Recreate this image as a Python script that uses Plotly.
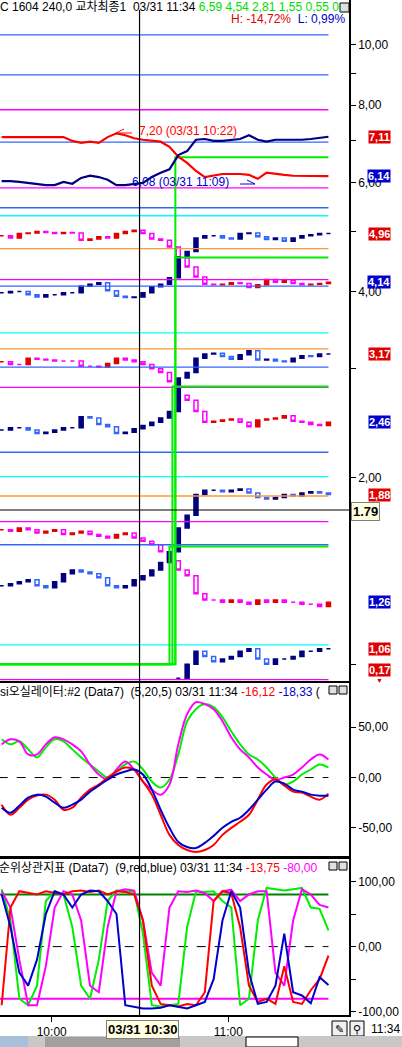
import numpy as np
import pandas as pd
import plotly.graph_objects as go
from plotly.subplots import make_subplots

DAY = '2016-03-31 '
bar_times = pd.date_range(DAY + '09:43', DAY + '11:34', freq='3min')  # 38 bars

# 교차 line series (top of the price panel)
cross_red = [7.10, 7.10, 7.10, 7.10, 7.10, 7.10, 7.10, 7.10, 7.00, 6.95, 6.98, 6.95, 7.10, 7.20,
             7.15, 7.07, 7.03, 7.00, 6.98, 6.85, 6.60, 6.45, 6.26, 6.12, 6.15, 6.19, 6.19, 6.19,
             6.17, 6.08, 6.22, 6.19, 6.17, 6.15, 6.15, 6.15, 6.14, 6.14]
cross_navy = [6.03, 6.03, 6.01, 5.99, 5.97, 5.94, 5.94, 6.01, 5.97, 6.10, 6.15, 6.12, 6.06, 5.94,
              5.94, 5.97, 5.99, 6.12, 6.22, 6.30, 6.64, 6.74, 7.03, 7.05, 7.00, 7.00, 7.03, 7.05,
              7.15, 7.03, 6.98, 7.03, 7.03, 7.03, 7.03, 7.05, 7.07, 7.11]

# candle closes (3 minute bars)
red_a = [4.92, 4.88, 4.96, 4.97, 5.00, 4.98, 4.96, 4.98, 4.97, 4.84, 4.86, 4.90, 4.88, 4.96,
         5.00, 5.02, 4.96, 4.86, 4.84, 4.72, 4.53, 4.38, 4.22, 4.11, 4.10, 4.11, 4.13, 4.12,
         4.06, 4.10, 4.18, 4.14, 4.17, 4.12, 4.10, 4.11, 4.12, 4.14]
blue_a = [3.98, 4.00, 4.00, 3.95, 3.92, 3.95, 3.95, 3.98, 3.98, 4.08, 4.11, 4.13, 4.01, 3.93,
          3.91, 3.92, 3.98, 4.07, 4.11, 4.21, 4.55, 4.64, 4.88, 4.92, 4.92, 4.88, 4.86, 4.96,
          4.97, 4.90, 4.85, 4.88, 4.82, 4.88, 4.92, 4.94, 4.96, 4.96]
red_b = [3.08, 3.05, 3.05, 3.12, 3.11, 3.10, 3.09, 3.09, 3.09, 3.03, 3.03, 3.02, 3.06, 3.12,
         3.10, 3.08, 3.05, 3.00, 2.96, 2.86, 2.72, 2.67, 2.56, 2.46, 2.47, 2.48, 2.49, 2.46,
         2.42, 2.48, 2.49, 2.50, 2.52, 2.47, 2.46, 2.44, 2.43, 2.46]
blue_b = [2.39, 2.41, 2.41, 2.39, 2.36, 2.37, 2.39, 2.41, 2.41, 2.51, 2.50, 2.44, 2.42, 2.36,
          2.37, 2.40, 2.43, 2.46, 2.50, 2.56, 2.90, 2.96, 3.12, 3.17, 3.18, 3.14, 3.11, 3.16,
          3.21, 3.10, 3.11, 3.09, 3.08, 3.12, 3.15, 3.14, 3.17, 3.17]
red_c = [1.65, 1.64, 1.66, 1.65, 1.63, 1.64, 1.65, 1.62, 1.63, 1.64, 1.62, 1.61, 1.60, 1.62,
         1.63, 1.60, 1.58, 1.56, 1.52, 1.47, 1.42, 1.39, 1.30, 1.27, 1.27, 1.26, 1.27, 1.26,
         1.25, 1.27, 1.26, 1.27, 1.26, 1.26, 1.25, 1.25, 1.24, 1.26]
blue_c = [1.34, 1.35, 1.36, 1.37, 1.34, 1.33, 1.36, 1.40, 1.42, 1.41, 1.40, 1.38, 1.34, 1.33,
          1.34, 1.37, 1.39, 1.42, 1.46, 1.52, 1.66, 1.74, 1.88, 1.91, 1.91, 1.90, 1.91, 1.92,
          1.89, 1.86, 1.85, 1.86, 1.88, 1.87, 1.89, 1.90, 1.89, 1.88]
blue_d = [0.95, 1.00, 1.05, 1.03, 1.01, 1.02, 1.03, 1.05, 1.06, 1.02, 1.00, 1.02, 1.02, 1.03,
          1.05, 1.05, 1.06, 1.06]  # from 10:43 on

# flat green series that jump at 10:42
green_before = 1.00
green_after = [6.59, 4.54, 2.81, 1.55]
green_jump = ['10:42', '10:42', '10:41', '10:40']

# horizontal reference levels of the price panel
level_vals = [10.38, 8.95, 7.86, 6.97, 5.88, 5.46, 5.30, 4.69, 4.18, 4.08, 3.43, 3.23, 3.02,
              2.80, 2.20, 2.01, 1.87, 1.70, 1.56, 1.075, 0.945]
level_cols = ['#3366ff', '#3366ff', '#ff00ff', '#3366ff', '#ff00ff', '#3366ff', '#00ffff',
              '#ff9933', '#ff00ff', '#3366ff', '#00ffff', '#ff9933', '#3366ff', '#ff00ff',
              '#3366ff', '#00ffff', '#ff9933', '#ff00ff', '#3366ff', '#00ffff', '#ff00ff']

# last value tags on the right axis
tag_vals = [7.11, 6.14, 4.96, 4.14, 3.17, 2.46, 1.88, 1.26, 1.06]
tag_text = ['7,11', '6,14', '4,96', '4,14', '3,17', '2,46', '1,88', '1,26', '1,06']
tag_cols = ['#e00000', '#0000cc', '#e00000', '#0000cc', '#e00000', '#0000cc', '#e00000',
            '#0000cc', '#e00000']

# 오실레이터 panel
osc_magenta = [33, 38, 36, 23, 23, 33, 40, 38, 33, 26, 13, 3, -2, 8, 16, 8, -4, -12, -17, -7,
               33, 63, 75, 73, 68, 56, 40, 28, 20, 10, 3, -2, 0, 3, 10, 18, 23, 18]
osc_green = [38, 33, 36, 28, 20, 30, 38, 36, 28, 20, 13, 6, 0, 6, 13, 16, 8, -4, -10, -2,
             23, 56, 68, 73, 70, 60, 46, 33, 23, 18, 10, 0, -7, -4, 3, 8, 13, 10]
osc_red = [-27, -37, -30, -22, -18, -17, -22, -32, -30, -20, -12, -7, 0, 6, 10, 8, -4, -17,
           -37, -57, -67, -72, -74, -72, -67, -57, -50, -44, -37, -22, -7, -2, -8, -14, -15,
           -19, -22, -16]
osc_blue = [-30, -35, -28, -20, -17, -19, -25, -30, -27, -22, -14, -8, -2, 3, 6, 8, 3, -12,
            -32, -50, -64, -69, -70, -65, -58, -50, -44, -40, -32, -22, -12, -4, -6, -12, -14,
            -17, -18, -18]

# 순위상관지표 panel
rank_red = [-90, 60, 85, 82, 80, 85, 83, 80, 85, 86, 84, 86, 80, 85, 84, 80, 40, -60, -88,
            -90, -92, -88, -90, -70, 70, 85, 82, 30, -60, -85, -80, -88, -30, -85, -88, -67,
            -50, -14]
rank_blue = [80, 30, -40, -60, -20, 50, 85, 80, 60, 80, 86, 85, 70, 50, -90, -92, -95, -95,
             -94, -90, -92, -95, -90, -85, -50, 40, 85, 60, -40, -88, -85, -60, 20, -70, -75,
             -87, -47, -59]
rank_green = [88, 40, -80, -90, -60, 70, 85, 80, 30, -60, -80, -20, 70, 86, 85, 84, 20, -90,
              -92, -90, -88, 30, 85, 84, 85, 70, 60, -90, -80, 40, 90, 88, 86, 88, 90, 60, 58, 25]
rank_magenta = [85, 60, -20, -90, -90, -30, 60, 85, 80, 40, -60, -70, 30, 85, 88, 86, 40, -40,
                -60, 60, 85, 84, 86, 82, 70, 85, 87, 70, 80, 85, 85, -40, -60, 40, 88, 80, 64, 60]

W, H = 402, 1047
PLOT_W, PLOT_H = 349, 1015
FONT = 'Liberation Sans, Noto Sans CJK KR'


def px(x):
    return x / PLOT_W


def py(y):
    return 1 - y / PLOT_H


def ohlc(closes):
    c = np.array(closes, dtype=float)
    o = np.r_[c[0], c[:-1]]
    return o, np.maximum(o, c), np.minimum(o, c), c


fig = make_subplots(rows=3, cols=1, shared_xaxes=True, vertical_spacing=0)

t0, t1 = DAY + '09:42', DAY + '11:34'

for v, col in zip(level_vals, level_cols):
    fig.add_trace(go.Scatter(x=[t0, t1], y=[v, v], mode='lines',
                             line=dict(color=col, width=1.3)), 1, 1)

for v, tj in zip(green_after, green_jump):
    fig.add_trace(go.Scatter(x=[t0, DAY + tj, DAY + tj, t1],
                             y=[green_before, green_before, v, v], mode='lines',
                             line=dict(color='#00ee00', width=2)), 1, 1)

for closes, up, edge in [(red_a, '#e00000', '#ff00ff'), (blue_a, '#000080', '#3366ff'),
                         (red_b, '#e00000', '#ff00ff'), (blue_b, '#000080', '#3366ff'),
                         (red_c, '#e00000', '#ff00ff'), (blue_c, '#000080', '#3366ff')]:
    o, hi, lo, c = ohlc(closes)
    fig.add_trace(go.Candlestick(x=bar_times, open=o, high=hi, low=lo, close=c,
                                 increasing=dict(line=dict(color=up, width=1.5), fillcolor=up),
                                 decreasing=dict(line=dict(color=edge, width=1.5), fillcolor='white'),
                                 whiskerwidth=0), 1, 1)

o, hi, lo, c = ohlc(blue_d)
fig.add_trace(go.Candlestick(x=bar_times[20:], open=o, high=hi, low=lo, close=c,
                             increasing=dict(line=dict(color='#000080', width=1.5), fillcolor='#000080'),
                             decreasing=dict(line=dict(color='#3366ff', width=1.5), fillcolor='white'),
                             whiskerwidth=0), 1, 1)

fig.add_trace(go.Scatter(x=bar_times, y=cross_red, mode='lines', line=dict(color='#ff0000', width=2.2)), 1, 1)
fig.add_trace(go.Scatter(x=bar_times, y=cross_navy, mode='lines', line=dict(color='#000080', width=2.2)), 1, 1)

# oscillator
fig.add_trace(go.Scatter(x=[t0, t1], y=[0, 0], mode='lines', line=dict(color='black', width=1, dash='dash')), 2, 1)
for ys, col in [(osc_green, '#00ee00'), (osc_magenta, '#ff00ff'), (osc_red, '#ff0000'), (osc_blue, '#0000cc')]:
    fig.add_trace(go.Scatter(x=bar_times, y=ys, mode='lines', line=dict(color=col, width=2, shape='spline')), 2, 1)

# rank correlation
fig.add_trace(go.Scatter(x=[t0, t1], y=[0, 0], mode='lines', line=dict(color='black', width=1, dash='dash')), 3, 1)
fig.add_trace(go.Scatter(x=[t0, t1], y=[80, 80], mode='lines', line=dict(color='#008000', width=2)), 3, 1)
fig.add_trace(go.Scatter(x=[t0, t1], y=[-80, -80], mode='lines', line=dict(color='#ff00ff', width=2)), 3, 1)
for ys, col in [(rank_green, '#00ee00'), (rank_magenta, '#ff00ff'), (rank_red, '#ff0000'), (rank_blue, '#0000cc')]:
    fig.add_trace(go.Scatter(x=bar_times, y=ys, mode='lines', line=dict(color=col, width=2)), 3, 1)

xr = [DAY + '09:42:26', DAY + '11:40:59']
fig.update_xaxes(range=xr, showgrid=False, zeroline=False, rangeslider_visible=False,
                 showline=True, linecolor='black', linewidth=1.5, ticks='', showticklabels=False)
fig.update_xaxes(mirror=True, row=2, col=1)
fig.update_xaxes(mirror=True, row=3, col=1, ticks='outside', ticklen=5, tickcolor='black',
                 tickvals=[DAY + '10:00', DAY + '11:00'], ticktext=['10:00', '11:00'],
                 showticklabels=True, tickfont=dict(size=12, color='black'))

axis_common = dict(side='right', showgrid=False, zeroline=False, showline=True, linecolor='black',
                   linewidth=1.5, ticks='outside', ticklen=5, tickcolor='black',
                   tickfont=dict(size=12, color='black'))
fig.update_yaxes(type='log', range=[np.log10(0.940), np.log10(11.82)],
                 tickvals=[1, 2, 3, 4, 5, 6, 7, 8, 9, 10],
                 ticktext=['', '2,00', '', '4,00', '', '6,00', '', '8,00', '', '10,00'],
                 row=1, col=1, **axis_common)
fig.update_yaxes(range=[-79, 94], tickvals=[-50, 0, 50], ticktext=['-50,00', '0,00', '50,00'],
                 row=2, col=1, **axis_common)
fig.update_yaxes(range=[-105, 136], tickvals=[-100, -50, 0, 50, 100],
                 ticktext=['-100,00', '', '0,00', '', '100,00'], row=3, col=1, **axis_common)

fig.layout.yaxis.domain = [py(681), 1]
fig.layout.yaxis2.domain = [py(857), py(683)]
fig.layout.yaxis3.domain = [0, py(858)]

ann = []


def text(x, y, s, size=12, color='black', anchor='left', **kw):
    ann.append(dict(x=px(x), y=py(y), xref='paper', yref='paper', text=s, showarrow=False,
                    xanchor=anchor, yanchor='middle', font=dict(size=size, color=color, family=FONT), **kw))


text(-2, 7, "C 1604 240,0 교차최종1  03/31 11:34 <span style='color:#00dd00'>6,59 4,54 2,81 1,55 0,55 0,</span>")
text(229, 19, "<span style='color:#e00000'>H: -14,72%</span>  <span style='color:#0000cc'>L: 0,99%</span>")
text(-2, 692, "si오실레이터:#2 (Data7)  (5,20,5) 03/31 11:34 <span style='color:#ff0000'>-16,12</span> "
              "<span style='color:#0000cc'>-18,33</span> (")
text(-3, 868, "순위상관지표 (Data7)  (9,red,blue) 03/31 11:34 <span style='color:#ff0000'>-13,75</span> "
              "<span style='color:#ff00ff'>-80,00</span>")
text(137, 131, "7,20 (03/31 10:22)", color='#ff0000')
text(130, 182, "6,08 (03/31 11:09)", color='#0000cc')

shapes = []
# small hand drawn arrows next to the max / min texts
shapes.append(dict(type='line', xref='paper', yref='paper', x0=px(116), x1=px(132), y0=py(133), y1=py(133),
                   line=dict(color='#ff0000', width=1)))
shapes.append(dict(type='line', xref='paper', yref='paper', x0=px(116), x1=px(124), y0=py(133), y1=py(129),
                   line=dict(color='#ff0000', width=1)))
shapes.append(dict(type='line', xref='paper', yref='paper', x0=px(240), x1=px(255), y0=py(184), y1=py(184),
                   line=dict(color='#0000cc', width=1)))
shapes.append(dict(type='line', xref='paper', yref='paper', x0=px(247), x1=px(255), y0=py(180), y1=py(184),
                   line=dict(color='#0000cc', width=1)))

for v, s, col in zip(tag_vals, tag_text, tag_cols):
    ann.append(dict(x=px(379), y=np.log10(v), xref='paper', yref='y', text='<b>' + s + '</b>',
                    showarrow=False, xanchor='center', yanchor='middle', bgcolor=col,
                    font=dict(size=11, color='white', family=FONT), borderpad=0))
text(379, 670, '<b>0,17</b>', size=11, color='white', anchor='center', bgcolor='#e00000', borderpad=0)
text(379, 680, '▼', size=7, color='#e00000', anchor='center')
text(366, 512, '<b>1.79</b>', size=13, anchor='center', bgcolor='#ffffe0', bordercolor='#808080',
     borderwidth=1, borderpad=1)
text(142, 1029, '<b>03/31 10:30</b>', size=13, anchor='center', bgcolor='#ffffe0',
     bordercolor='#808080', borderwidth=1, borderpad=1)
text(385, 1029, '11:34', size=12, anchor='center')
text(339, 1029, '✎', size=11, anchor='center')
text(357, 1029, '⚲', size=11, anchor='center')

shapes += [
    dict(type='line', xref='x', yref='paper', x0=DAY + '10:29:50', x1=DAY + '10:29:50', y0=py(10), y1=py(1015),
         line=dict(color='black', width=1.2)),
    dict(type='line', xref='paper', yref='paper', x0=0, x1=1, y0=py(510), y1=py(510),
         line=dict(color='black', width=1.2)),
    dict(type='rect', xref='paper', yref='paper', x0=px(340), x1=px(349), y0=py(3), y1=py(12),
         line=dict(color='black', width=1), fillcolor='#e0e0e0'),
    dict(type='rect', xref='paper', yref='paper', x0=px(329), x1=px(337), y0=py(686), y1=py(694),
         line=dict(color='black', width=1), fillcolor='#e0e0e0'),
    dict(type='rect', xref='paper', yref='paper', x0=px(339), x1=px(347), y0=py(686), y1=py(694),
         line=dict(color='black', width=1), fillcolor='#e0e0e0'),
    dict(type='rect', xref='paper', yref='paper', x0=px(329), x1=px(337), y0=py(862), y1=py(870),
         line=dict(color='black', width=1), fillcolor='#e0e0e0'),
    dict(type='rect', xref='paper', yref='paper', x0=px(339), x1=px(347), y0=py(862), y1=py(870),
         line=dict(color='black', width=1), fillcolor='#e0e0e0'),
    dict(type='rect', xref='paper', yref='paper', x0=px(332), x1=px(347), y0=py(1021), y1=py(1036),
         line=dict(color='black', width=1), fillcolor='#f0f0f0', layer='below'),
    dict(type='rect', xref='paper', yref='paper', x0=px(350), x1=px(364), y0=py(1021), y1=py(1036),
         line=dict(color='black', width=1), fillcolor='#f0f0f0', layer='below'),
    dict(type='rect', xref='paper', yref='paper', x0=px(0), x1=px(402), y0=py(1036), y1=py(1047),
         line=dict(width=0), fillcolor='#c8c8c8'),
    dict(type='rect', xref='paper', yref='paper', x0=px(0), x1=px(28), y0=py(1036), y1=py(1047),
         line=dict(width=0), fillcolor='#a8c0d8'),
    dict(type='rect', xref='paper', yref='paper', x0=px(45), x1=px(180), y0=py(1037), y1=py(1047),
         line=dict(width=0), fillcolor='#a0a0a0'),
    dict(type='rect', xref='paper', yref='paper', x0=px(246), x1=px(298), y0=py(1037), y1=py(1047),
         line=dict(color='black', width=1), fillcolor='white'),
]

fig.update_layout(width=W, height=H, margin=dict(l=0, r=W - PLOT_W, t=0, b=H - PLOT_H),
                  paper_bgcolor='white', plot_bgcolor='white', showlegend=False,
                  font=dict(family=FONT, size=12, color='black'), boxgap=0.35,
                  annotations=ann, shapes=shapes)

fig.write_html("out.html", config={'displayModeBar': False},
               post_script="document.body.style.margin='0';")
